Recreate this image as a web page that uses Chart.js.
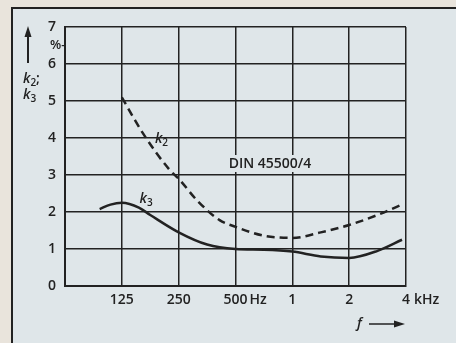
<!DOCTYPE html>
<html>
<head>
<meta charset="utf-8">
<script src="https://cdn.jsdelivr.net/npm/chart.js@4.4.1/dist/chart.umd.min.js"></script>
<style>
  html, body { margin: 0; padding: 0; background: #e9e4dc; }
  #wrap { width: 456px; height: 343px; }
</style>
</head>
<body>
<div id="wrap"><canvas id="myChart" width="456" height="343"></canvas></div>
<script>
// octave index: 0 = 62.5 Hz, 1 = 125 Hz ... 6 = 4 kHz
var X_TICKS = ['', '125', '250', '500', '1', '2', '4'];
var Y_TICKS = [0, 1, 2, 3, 4, 5, 6, 7];

var K2_X = [1.0, 1.37, 1.84, 2.0, 2.32, 2.72, 3.0, 3.5, 4.0, 4.5, 5.0, 5.5, 5.93];
var K2_Y = [5.1, 4.13, 3.14, 2.9, 2.32, 1.78, 1.6, 1.36, 1.3, 1.45, 1.65, 1.92, 2.2];

var K3_X = [0.61, 0.8, 1.0, 1.3, 1.5, 2.0, 2.5, 3.0, 3.5, 4.0, 4.5, 5.0, 5.5, 5.93];
var K3_Y = [2.08, 2.2, 2.25, 2.12, 1.92, 1.45, 1.12, 1.0, 0.98, 0.93, 0.8, 0.76, 0.95, 1.25];

var INK = '#222';
var BG = '#dfe6e9';
var FONT = '"Open Sans", "Liberation Sans", sans-serif';

function pts(xs, ys) {
    return xs.map(function(x, i) { return {x: x, y: ys[i]}; });
}

function kLabel(ctx, x, y, sub, tail) {
    ctx.font = 'italic 600 14px ' + FONT;
    ctx.textAlign = 'left';
    ctx.textBaseline = 'alphabetic';
    ctx.fillText('k', x, y);
    var w = ctx.measureText('k').width;
    ctx.font = '600 10px ' + FONT;
    ctx.fillText(sub, x + w, y + 3);
    if (tail) {
	var w2 = ctx.measureText(sub).width;
	ctx.font = '600 14px ' + FONT;
	ctx.fillText(tail, x + w + w2, y);
    }
}

var decor = {
    id: 'decor',
    beforeDraw: function(chart) {
	var ctx = chart.ctx;
	ctx.save();
	ctx.fillStyle = '#e9e4dc';
	ctx.fillRect(0, 0, 456, 343);
	ctx.fillStyle = BG;
	ctx.fillRect(12, 8, 444, 335);
	ctx.strokeStyle = INK;
	ctx.lineWidth = 2;
	ctx.beginPath();
	ctx.moveTo(12, 343);
	ctx.lineTo(12, 8);
	ctx.lineTo(456, 8);
	ctx.stroke();
	ctx.restore();
    },
    afterDraw: function(chart) {
	var ctx = chart.ctx;
	var xs = chart.scales.x, ys = chart.scales.y;
	ctx.save();
	ctx.fillStyle = INK;
	ctx.strokeStyle = INK;

	// y axis unit and name
	ctx.font = '600 13px ' + FONT;
	ctx.textAlign = 'left';
	ctx.textBaseline = 'middle';
	ctx.fillText('%-', 50, 45);

	ctx.lineWidth = 2;
	ctx.beginPath();
	ctx.moveTo(28, 63);
	ctx.lineTo(28, 34);
	ctx.stroke();
	ctx.beginPath();
	ctx.moveTo(28, 26);
	ctx.lineTo(24.5, 37);
	ctx.lineTo(31.5, 37);
	ctx.closePath();
	ctx.fill();

	kLabel(ctx, 23, 83, '2', ';');
	kLabel(ctx, 23, 99, '3');

	// x units
	ctx.font = '600 14px ' + FONT;
	ctx.textBaseline = 'middle';
	ctx.textAlign = 'left';
	ctx.fillText('Hz', xs.getPixelForValue(3) + 14, 300);
	ctx.fillText('kHz', xs.getPixelForValue(6) + 8, 300);

	// f arrow
	ctx.font = 'italic 600 14px ' + FONT;
	ctx.fillText('f', 357, 324);
	ctx.lineWidth = 1.5;
	ctx.beginPath();
	ctx.moveTo(369, 324);
	ctx.lineTo(396, 324);
	ctx.stroke();
	ctx.beginPath();
	ctx.moveTo(405, 324);
	ctx.lineTo(394, 320.5);
	ctx.lineTo(394, 327.5);
	ctx.closePath();
	ctx.fill();

	// curve labels
	kLabel(ctx, xs.getPixelForValue(1.67) - 5, ys.getPixelForValue(3.95) + 3, '2');
	kLabel(ctx, xs.getPixelForValue(1.4) - 5, ys.getPixelForValue(2.35) + 4, '3');

	// DIN note on a plain patch
	ctx.fillStyle = BG;
	ctx.fillRect(226, 155, 88, 17);
	ctx.fillStyle = INK;
	ctx.font = '600 14px ' + FONT;
	ctx.textAlign = 'center';
	ctx.textBaseline = 'alphabetic';
	ctx.fillText('DIN 45500/4', 270, 168);
	ctx.restore();
    }
};

var ctx = document.getElementById('myChart').getContext('2d');
var myChart = new Chart(ctx, {
    type: 'scatter',
    data: {
	datasets: [{
	    label: 'k2',
	    data: pts(K2_X, K2_Y),
	    showLine: true,
	    borderColor: INK,
	    borderWidth: 2.5,
	    borderDash: [8, 5],
	    pointRadius: 0,
	    cubicInterpolationMode: 'monotone'
	}, {
	    label: 'k3',
	    data: pts(K3_X, K3_Y),
	    showLine: true,
	    borderColor: INK,
	    borderWidth: 2.5,
	    pointRadius: 0,
	    cubicInterpolationMode: 'monotone'
	}]
    },
    options: {
	responsive: false,
	animation: false,
	layout: { padding: { left: 0, right: 50, top: 27, bottom: 0 } },
	plugins: { legend: { display: false }, tooltip: { enabled: false } },
	scales: {
	    x: {
		type: 'linear',
		min: 0,
		max: 6,
		afterBuildTicks: function(s) {
		    s.ticks = X_TICKS.map(function(t, i) { return {value: i}; });
		},
		afterFit: function(s) { s.height = 57; },
		grid: { color: INK, lineWidth: 1.5, drawTicks: false },
		border: { color: INK, width: 2 },
		ticks: {
		    color: INK,
		    padding: 6,
		    maxRotation: 0,
		    font: { family: FONT, size: 14, weight: '600' },
		    callback: function(v) { return X_TICKS[v]; }
		}
	    },
	    y: {
		min: 0,
		max: 7,
		afterBuildTicks: function(s) {
		    s.ticks = Y_TICKS.map(function(v) { return {value: v}; });
		},
		afterFit: function(s) { s.width = 65; },
		grid: { color: INK, lineWidth: 1.5, drawTicks: false },
		border: { color: INK, width: 2 },
		ticks: {
		    color: INK,
		    padding: 9,
		    font: { family: FONT, size: 14, weight: '600' },
		    callback: function(v) { return v; }
		}
	    }
	}
    },
    plugins: [decor]
});
</script>
</body>
</html>
